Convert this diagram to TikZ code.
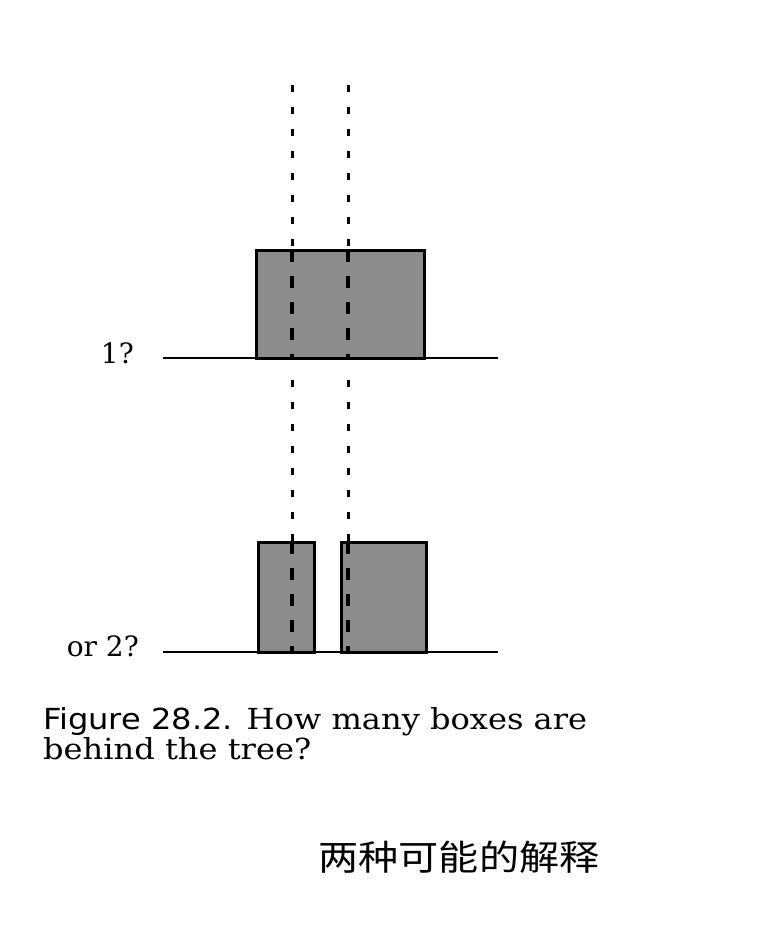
\documentclass[tikz,border=0pt]{standalone}
\usepackage{fontspec}
\setmainfont{DejaVu Serif}
\setsansfont{DejaVu Sans}
\newfontfamily\cjk{Noto Sans CJK SC}
\newlength\capw
\begin{document}
\settowidth\capw{\fontsize{29}{33}\selectfont{\sffamily Figure 28.2.} How many boxes are}
\pgfmathsetmacro\capf{544/\capw}
\begin{tikzpicture}[x=1pt,y=-1pt,
  boxst/.style={draw=black,line width=3pt,fill=black!45,inner sep=0pt,outer sep=0pt},
  dotline/.style={line width=3pt,dash pattern=on 7pt off 15pt},
  inline/.style={line width=3.5pt,dash pattern=on 12pt off 14pt},
  ground/.style={line width=2pt},
  lbl/.style={font=\fontsize{28}{32}\selectfont,inner sep=0pt}]
\useasboundingbox (0,0) rectangle (760,934);
% upper dotted lines
\coordinate (t1) at (292,85);
\coordinate (t2) at (348,85);
\coordinate (t1b) at (292,250);
\coordinate (t2b) at (348,250);
\draw[dotline] (t1) -- (t1b);
\draw[dotline] (t2) -- (t2b);
% upper box
\node[boxst,minimum width=168pt,minimum height=108pt] (b1) at (340,304) {};
\coordinate (i1a) at (292,250);
\coordinate (i1b) at (292,358);
\coordinate (i2a) at (348,250);
\coordinate (i2b) at (348,358);
\draw[inline] (i1a) -- (i1b);
\draw[inline] (i2a) -- (i2b);
% ground 1
\coordinate (g1a) at (163,358);
\coordinate (g1b) at (498,358);
\draw[ground] (g1a) -- (g1b);
\node[lbl,anchor=base east] (l1) at (134,363) {1?};
% lower dotted lines
\coordinate (m1) at (292,380);
\coordinate (m2) at (348,380);
\coordinate (m1b) at (292,542);
\coordinate (m2b) at (348,542);
\draw[dotline] (m1) -- (m1b);
\draw[dotline] (m2) -- (m2b);
% lower boxes
\node[boxst,minimum width=56pt,minimum height=110pt] (b2) at (286,597) {};
\node[boxst,minimum width=85pt,minimum height=110pt] (b3) at (383.5,597) {};
\coordinate (j1a) at (292,542);
\coordinate (j1b) at (292,652);
\coordinate (j2a) at (348,542);
\coordinate (j2b) at (348,652);
\draw[inline] (j1a) -- (j1b);
\draw[inline] (j2a) -- (j2b);
% ground 2
\coordinate (g2a) at (163,652);
\coordinate (g2b) at (498,652);
\draw[ground] (g2a) -- (g2b);
\node[lbl,anchor=base east] (l2) at (139,656) {or 2?};
% caption
\node[anchor=base west,inner sep=0pt,font=\fontsize{29}{33}\selectfont] (c1) at (43,729)
  {\scalebox{\capf}[1]{{\sffamily Figure 28.2.} How many boxes are}};
\node[anchor=base west,inner sep=0pt,font=\fontsize{29}{33}\selectfont] (c2) at (43,759)
  {\scalebox{\capf}[1]{behind the tree?}};
% chinese
\node[anchor=center,inner sep=0pt,font=\cjk\fontsize{35}{40}\selectfont] (zh) at (459,857)
  {\resizebox{281pt}{\height}{两种可能的解释}};
\end{tikzpicture}
\end{document}
